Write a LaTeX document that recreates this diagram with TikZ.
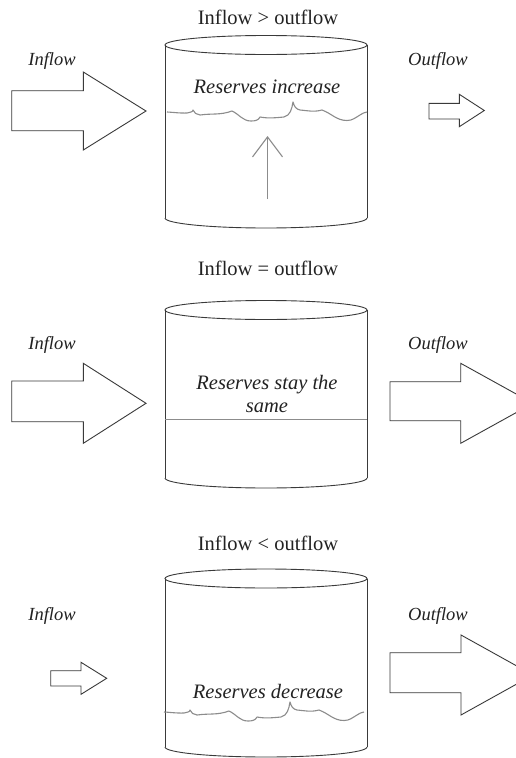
\documentclass[tikz,border=0pt]{standalone}
\usepackage{fontspec}
\setmainfont{Liberation Serif}
\usetikzlibrary{arrows.meta}

\definecolor{inkline}{HTML}{3A3A3A}
\definecolor{waterc}{HTML}{8C8C8C}
\definecolor{inktext}{HTML}{222222}

% Block arrow: left x, shaft top y, shaft bottom y, head base x,
% head top y, head bottom y, tip x (image-style y, measured downwards)
\newcommand\flowarrow[7]{%
  \draw[blockarrow] (#1,-#2) -- (#4,-#2) -- (#4,-#5) -- ({#7},{-(#5+#6)/2})
    -- (#4,-#6) -- (#4,-#3) -- (#1,-#3) -- cycle;}

% Tank: top rim centre y, bottom rim centre y
\newcommand\drawtank[2]{%
  \draw[tankline] (266,-#1) ellipse[x radius=101, y radius=9.5];
  \draw[tankline] (165,-#1) -- (165,-#2);
  \draw[tankline] (367,-#1) -- (367,-#2);
  \draw[tankline] (165,-#2) arc[start angle=180, end angle=360, x radius=101, y radius=10];}

\tikzset{
  blockarrow/.style={draw=inkline, line width=0.9pt, line join=miter},
  tankline/.style={draw=inkline, line width=0.9pt},
  watergray/.style={draw=waterc, line width=1.1pt},
  titletext/.style={text=inktext, font=\fontsize{20.5}{24}\selectfont, inner sep=0pt},
  tanktext/.style={text=inktext, font=\fontsize{20.5}{23}\selectfont\itshape, inner sep=0pt, align=center},
  labeltext/.style={text=inktext, font=\fontsize{18.5}{22}\selectfont\itshape, inner sep=0pt},
  waterline/.pic={
    \draw[watergray, line join=round]
      (167,0) to[out=-3,in=182] (187,-1)
      to[out=25,in=-95] (193,2)
      to[out=-80,in=165] (200,-3)
      to[out=8,in=200] (232,1)
      to[out=-25,in=180] (251,-9)
      to[out=0,in=-115] (260,-5)
      to[out=-10,in=185] (284,-5)
      to[out=15,in=-100] (293,10)
      to[out=-75,in=170] (300,2)
      to[out=-5,in=195] (322,2)
      to[out=-20,in=180] (347,-8.5)
      to[out=0,in=210] (360,-3)
      to[out=30,in=185] (367,0);
  }
}

\begin{document}
\begin{tikzpicture}[x=1pt, y=1pt]
  \fill[white] (0,0) rectangle (515,-758);
  \useasboundingbox (0,0) rectangle (515,-758);

  % ---------- Inflow > outflow ----------
  \node[titletext] (title1) at (268,-17) {Inflow > outflow};
  \drawtank{45}{218}
  \node[tanktext] (state1) at (267,-87) {Reserves increase};
  \pic at (0,-112) {waterline};
  \coordinate (rise-base) at (267.5,-199);
  \coordinate (rise-tip) at (267.5,-136);
  \draw[watergray, -{Straight Barb[length=20pt, width=30pt]}] (rise-base) -- (rise-tip);
  \node[labeltext] (in1) at (52,-61) {Inflow};
  \node[labeltext] (out1) at (438,-61) {Outflow};
  \flowarrow{11.7}{90.7}{130.7}{83.3}{72}{150}{146}
  \flowarrow{429}{103.3}{119}{459.3}{94.3}{126.7}{484.3}

  % ---------- Inflow = outflow ----------
  \node[titletext] (title2) at (268,-268) {Inflow = outflow};
  \drawtank{310}{478}
  \node[tanktext] (state2) at (267,-394) {Reserves stay the\\same};
  \draw[watergray, line width=0.9pt] (165,-419) -- (367,-419);
  \node[labeltext] (in2) at (52,-345) {Inflow};
  \node[labeltext] (out2) at (438,-345) {Outflow};
  \flowarrow{11.7}{381}{421.7}{83.3}{363.3}{443.3}{146}
  \flowarrow{390}{381.7}{420.7}{460.7}{363.3}{443.3}{533}

  % ---------- Inflow < outflow ----------
  \node[titletext] (title3) at (268,-543) {Inflow < outflow};
  \drawtank{578.5}{747}
  \node[tanktext] (state3) at (268,-691) {Reserves decrease};
  \pic at (-3,-712) {waterline};
  \node[labeltext] (in3) at (52,-616) {Inflow};
  \node[labeltext] (out3) at (438,-616) {Outflow};
  \flowarrow{50.7}{670.7}{686}{81}{662.3}{694.3}{106.7}
  \flowarrow{390}{652.7}{692.7}{461}{635}{715}{533}
\end{tikzpicture}
\end{document}
